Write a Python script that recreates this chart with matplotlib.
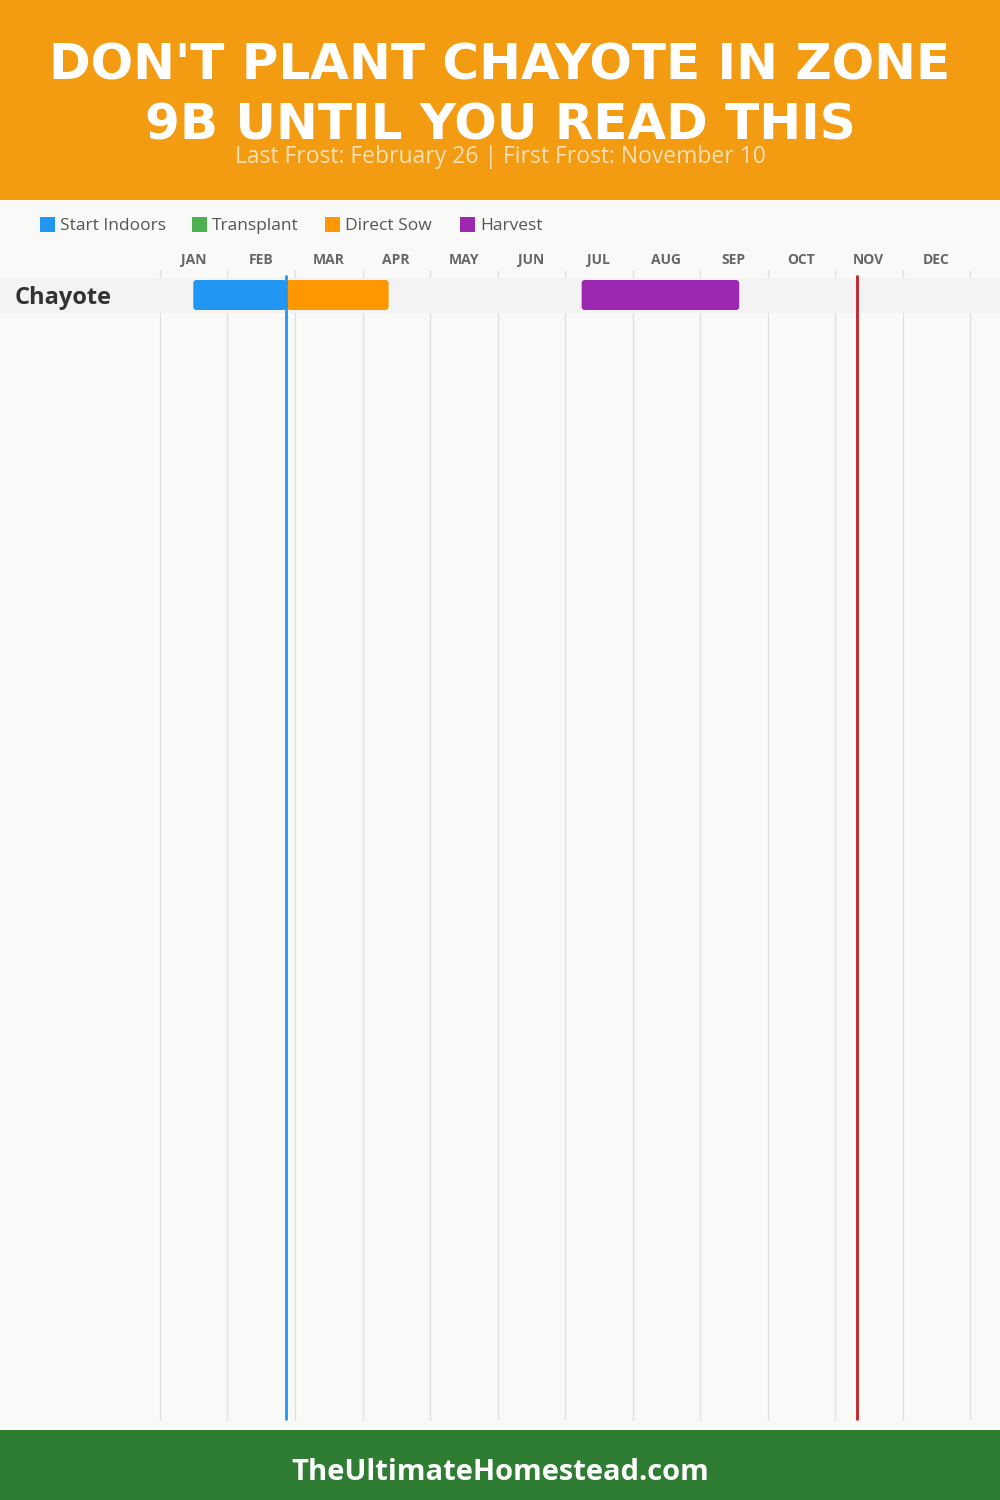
import datetime as dt
import matplotlib
matplotlib.use("Agg")
import matplotlib.pyplot as plt
from matplotlib.patches import FancyBboxPatch, Rectangle

# ---------------- data ----------------
title = "DON'T PLANT CHAYOTE IN ZONE\n9B UNTIL YOU READ THIS"
subtitle = "Last Frost: February 26 | First Frost: November 10"
footer = "TheUltimateHomestead.com"
months = ["JAN", "FEB", "MAR", "APR", "MAY", "JUN",
          "JUL", "AUG", "SEP", "OCT", "NOV", "DEC"]
crops = ["Chayote"]
legend_labels = ["Start Indoors", "Transplant", "Direct Sow", "Harvest"]
legend_colors = ["#2196F3", "#4CAF50", "#FF9800", "#9C27B0"]
start_indoors = [("01-15", "02-26")]
transplant = [None]
direct_sow = [("02-26", "04-13")]
harvest = [("07-09", "09-18")]
last_frost = "02-26"
first_frost = "11-10"


def doy(s):
    return dt.datetime.strptime("2023-" + s, "%Y-%m-%d").timetuple().tm_yday


# ---------------- layout ----------------
W, H = 1000, 1500
fig = plt.figure(figsize=(10, 15), dpi=100)
fig.patch.set_facecolor("#F9F9F7")

# chart axis: x in days, y in pixels (top-down); day 0 -> px 160, day 365 -> px 970
x0_px, x1_px = 160, 970
ppd = (x1_px - x0_px) / 365.0
ax = fig.add_axes([0, 0, 1, 1])
ax.set_xlim(-x0_px / ppd, (W - x0_px) / ppd)
ax.set_ylim(H, 0)
ax.axis("off")
ax.set_facecolor("none")

# header / footer
ax.add_patch(Rectangle((0, 0), 1, 200, transform=ax.get_yaxis_transform(),
                       color="#F39C12", zorder=1, lw=0))
ax.add_patch(Rectangle((0, 1430), 1, 70, transform=ax.get_yaxis_transform(),
                       color="#2E7D32", zorder=1, lw=0))

fig.text(0.5, 1 - 66 / H, title.split("\n")[0], ha="center", va="center",
         color="white", fontsize=36, fontweight="heavy", family="DejaVu Sans",
         zorder=5)
fig.text(0.5, 1 - 126 / H, title.split("\n")[1], ha="center", va="center",
         color="white", fontsize=36, fontweight="heavy", family="DejaVu Sans",
         zorder=5)
fig.text(0.5, 1 - 157 / H, subtitle, ha="center", va="center",
         color="#FBE0B8", fontsize=16.5, family="Open Sans", zorder=6)
fig.text(0.5, 1 - 1473 / H, footer, ha="center", va="center", color="white",
         fontsize=21, fontweight="bold", family="Open Sans", zorder=5)

# legend
leg_x = [40, 192, 325, 460]
for lx, lab, col in zip(leg_x, legend_labels, legend_colors):
    fig.patches.append(Rectangle((lx / W, 1 - 232 / H), 15 / W, 15 / H,
                                 transform=fig.transFigure, color=col, lw=0))
    fig.text((lx + 20) / W, 1 - 226 / H, lab, ha="left", va="center",
             color="#555555", fontsize=12.5, family="Open Sans")

# month grid lines and labels
step = 365 / 12
for i in range(13):
    ax.vlines(i * step, 270, 1420, color="#E0E0E0", lw=1, zorder=2)
for i, m in enumerate(months):
    ax.text((i + 0.5) * step, 260, m, ha="center", va="center",
            color="#666666", fontsize=10, fontweight="bold", family="Open Sans")

# rows
row_top, row_h = 278, 35
for r, crop in enumerate(crops):
    yt = row_top + r * row_h
    ax.axhspan(yt, yt + row_h, color="#F3F3F3", zorder=3, lw=0)
    ax.text(15 / ppd - x0_px / ppd, yt + row_h / 2 + 2, crop, ha="left",
            va="center", color="#333333", fontsize=17, fontweight="bold",
            family="Open Sans", zorder=6)
    for seg, col in zip([start_indoors[r], transplant[r], direct_sow[r],
                         harvest[r]], legend_colors):
        if seg is None:
            continue
        a, b = doy(seg[0]), doy(seg[1])
        ax.add_patch(FancyBboxPatch((a, yt + 2), b - a, row_h - 5,
                                    boxstyle="round,pad=0,rounding_size=1.4",
                                    mutation_aspect=ppd, color=col, lw=0,
                                    zorder=4))

# frost lines
ax.vlines(doy(last_frost), 275, 1420, color="#2196F3", lw=2, zorder=5)
ax.vlines(doy(first_frost), 275, 1420, color="#C0202A", lw=2, zorder=5)

fig.savefig("out.png", dpi=100, facecolor=fig.get_facecolor())
